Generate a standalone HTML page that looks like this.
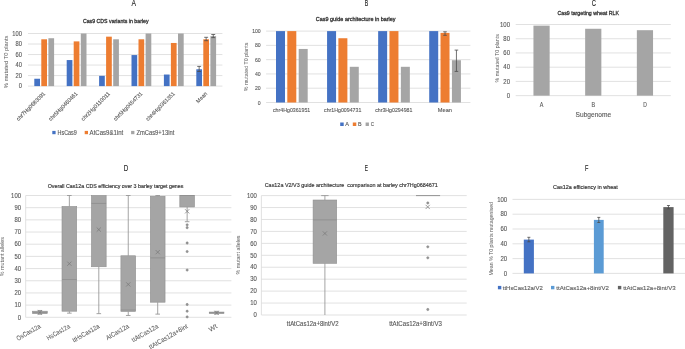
<!DOCTYPE html>
<html><head><meta charset="utf-8"><style>
html,body{margin:0;padding:0;background:#fff;}
body{width:685px;height:349px;overflow:hidden;}
svg{display:block;font-family:"Liberation Sans",sans-serif;will-change:transform;}
</style></head><body>
<svg width="685" height="349" viewBox="0 0 685 349">
<rect width="685" height="349" fill="#fff"/>
<text x="133.65" y="5.7" font-size="8.43" fill="#1a1a1a" stroke="#1a1a1a" stroke-width="0.12" text-anchor="middle" textLength="4.5" lengthAdjust="spacingAndGlyphs">A</text>
<text x="82.9" y="23.05" font-size="5.7" fill="#333333" stroke="#333333" stroke-width="0.3" textLength="65.7" lengthAdjust="spacingAndGlyphs">Cas9 CDS variants in barley</text>
<line x1="28" y1="86.1" x2="222.4" y2="86.1" stroke="#d9d9d9" stroke-width="0.8"/>
<line x1="28" y1="75.58" x2="222.4" y2="75.58" stroke="#d9d9d9" stroke-width="0.8"/>
<line x1="28" y1="65.06" x2="222.4" y2="65.06" stroke="#d9d9d9" stroke-width="0.8"/>
<line x1="28" y1="54.54" x2="222.4" y2="54.54" stroke="#d9d9d9" stroke-width="0.8"/>
<line x1="28" y1="44.02" x2="222.4" y2="44.02" stroke="#d9d9d9" stroke-width="0.8"/>
<line x1="28" y1="33.5" x2="222.4" y2="33.5" stroke="#d9d9d9" stroke-width="0.8"/>
<text x="21.9" y="88.35" font-size="6.54" fill="#595959" stroke="#595959" stroke-width="0.12" text-anchor="end" textLength="3.2" lengthAdjust="spacingAndGlyphs">0</text>
<text x="21.9" y="77.83" font-size="6.54" fill="#595959" stroke="#595959" stroke-width="0.12" text-anchor="end" textLength="6.4" lengthAdjust="spacingAndGlyphs">20</text>
<text x="21.9" y="67.31" font-size="6.54" fill="#595959" stroke="#595959" stroke-width="0.12" text-anchor="end" textLength="6.4" lengthAdjust="spacingAndGlyphs">40</text>
<text x="21.9" y="56.79" font-size="6.54" fill="#595959" stroke="#595959" stroke-width="0.12" text-anchor="end" textLength="6.4" lengthAdjust="spacingAndGlyphs">60</text>
<text x="21.9" y="46.27" font-size="6.54" fill="#595959" stroke="#595959" stroke-width="0.12" text-anchor="end" textLength="6.4" lengthAdjust="spacingAndGlyphs">80</text>
<text x="21.9" y="35.75" font-size="6.54" fill="#595959" stroke="#595959" stroke-width="0.12" text-anchor="end" textLength="9.6" lengthAdjust="spacingAndGlyphs">100</text>
<text x="8.3" y="88.2" font-size="5.81" fill="#595959" textLength="52.6" lengthAdjust="spacingAndGlyphs" transform="rotate(-90 8.3 88.2)">% mutated T0 plants</text>
<rect x="34.3" y="78.74" width="5.7" height="7.36" fill="#4472c4"/>
<rect x="41.3" y="39.29" width="5.7" height="46.81" fill="#ed7d31"/>
<rect x="48.4" y="38.23" width="5.7" height="47.87" fill="#a5a5a5"/>
<rect x="66.7" y="60.06" width="5.7" height="26.04" fill="#4472c4"/>
<rect x="73.7" y="41.39" width="5.7" height="44.71" fill="#ed7d31"/>
<rect x="80.8" y="33.5" width="5.7" height="52.6" fill="#a5a5a5"/>
<rect x="99.1" y="75.84" width="5.7" height="10.26" fill="#4472c4"/>
<rect x="106.1" y="36.66" width="5.7" height="49.44" fill="#ed7d31"/>
<rect x="113.2" y="39.29" width="5.7" height="46.81" fill="#a5a5a5"/>
<rect x="131.5" y="55.07" width="5.7" height="31.03" fill="#4472c4"/>
<rect x="138.5" y="39.29" width="5.7" height="46.81" fill="#ed7d31"/>
<rect x="145.6" y="33.5" width="5.7" height="52.6" fill="#a5a5a5"/>
<rect x="163.9" y="74.53" width="5.7" height="11.57" fill="#4472c4"/>
<rect x="170.9" y="42.97" width="5.7" height="43.13" fill="#ed7d31"/>
<rect x="178" y="33.5" width="5.7" height="52.6" fill="#a5a5a5"/>
<rect x="196.3" y="69.27" width="5.7" height="16.83" fill="#4472c4"/>
<rect x="203.3" y="39.29" width="5.7" height="46.81" fill="#ed7d31"/>
<rect x="210.4" y="36.13" width="5.7" height="49.97" fill="#a5a5a5"/>
<line x1="199.15" y1="66.4" x2="199.15" y2="71.5" stroke="#4d4d4d" stroke-width="0.8"/>
<line x1="197.2" y1="66.4" x2="201.1" y2="66.4" stroke="#4d4d4d" stroke-width="0.8"/>
<line x1="197.2" y1="71.5" x2="201.1" y2="71.5" stroke="#4d4d4d" stroke-width="0.8"/>
<line x1="206.15" y1="37.3" x2="206.15" y2="40.7" stroke="#4d4d4d" stroke-width="0.8"/>
<line x1="204.2" y1="37.3" x2="208.1" y2="37.3" stroke="#4d4d4d" stroke-width="0.8"/>
<line x1="204.2" y1="40.7" x2="208.1" y2="40.7" stroke="#4d4d4d" stroke-width="0.8"/>
<line x1="213.25" y1="34.5" x2="213.25" y2="37.6" stroke="#4d4d4d" stroke-width="0.8"/>
<line x1="211.3" y1="34.5" x2="215.2" y2="34.5" stroke="#4d4d4d" stroke-width="0.8"/>
<line x1="211.3" y1="37.6" x2="215.2" y2="37.6" stroke="#4d4d4d" stroke-width="0.8"/>
<text x="45.7" y="94.1" font-size="5.6" fill="#595959" stroke="#595959" stroke-width="0.12" text-anchor="end" textLength="38.5" lengthAdjust="spacingAndGlyphs" transform="rotate(-45 45.7 94.1)">chr7Hg0683091</text>
<text x="78.1" y="94.1" font-size="5.6" fill="#595959" stroke="#595959" stroke-width="0.12" text-anchor="end" textLength="38.5" lengthAdjust="spacingAndGlyphs" transform="rotate(-45 78.1 94.1)">chr5Hg0460461</text>
<text x="110.5" y="94.1" font-size="5.6" fill="#595959" stroke="#595959" stroke-width="0.12" text-anchor="end" textLength="38.5" lengthAdjust="spacingAndGlyphs" transform="rotate(-45 110.5 94.1)">chr2Hg0110011</text>
<text x="142.9" y="94.1" font-size="5.6" fill="#595959" stroke="#595959" stroke-width="0.12" text-anchor="end" textLength="38.5" lengthAdjust="spacingAndGlyphs" transform="rotate(-45 142.9 94.1)">chr5Hg0454731</text>
<text x="175.3" y="94.1" font-size="5.6" fill="#595959" stroke="#595959" stroke-width="0.12" text-anchor="end" textLength="38.5" lengthAdjust="spacingAndGlyphs" transform="rotate(-45 175.3 94.1)">chr4Hg0361351</text>
<text x="207.7" y="94.1" font-size="5.6" fill="#595959" stroke="#595959" stroke-width="0.12" text-anchor="end" textLength="13.2" lengthAdjust="spacingAndGlyphs" transform="rotate(-45 207.7 94.1)">Mean</text>
<rect x="52.3" y="130.9" width="3.3" height="3.3" fill="#4472c4"/>
<text x="57.5" y="134.8" font-size="6.54" fill="#595959" stroke="#595959" stroke-width="0.12" textLength="19.3" lengthAdjust="spacingAndGlyphs">HsCas9</text>
<rect x="84.7" y="130.9" width="3.3" height="3.3" fill="#ed7d31"/>
<text x="89.6" y="134.8" font-size="6.54" fill="#595959" stroke="#595959" stroke-width="0.12" textLength="33.6" lengthAdjust="spacingAndGlyphs">AtCas9&amp;1int</text>
<rect x="131.1" y="130.9" width="3.3" height="3.3" fill="#a5a5a5"/>
<text x="136.4" y="134.8" font-size="6.54" fill="#595959" stroke="#595959" stroke-width="0.12" textLength="37.9" lengthAdjust="spacingAndGlyphs">ZmCas9+13int</text>
<text x="366.45" y="5.7" font-size="8.43" fill="#1a1a1a" stroke="#1a1a1a" stroke-width="0.12" text-anchor="middle" textLength="3.5" lengthAdjust="spacingAndGlyphs">B</text>
<text x="315.8" y="20.85" font-size="5.7" fill="#333333" stroke="#333333" stroke-width="0.3" textLength="79.8" lengthAdjust="spacingAndGlyphs">Cas9 guide architecture in barley</text>
<line x1="266.1" y1="102.5" x2="470.4" y2="102.5" stroke="#d9d9d9" stroke-width="0.8"/>
<line x1="266.1" y1="88.22" x2="470.4" y2="88.22" stroke="#d9d9d9" stroke-width="0.8"/>
<line x1="266.1" y1="73.94" x2="470.4" y2="73.94" stroke="#d9d9d9" stroke-width="0.8"/>
<line x1="266.1" y1="59.66" x2="470.4" y2="59.66" stroke="#d9d9d9" stroke-width="0.8"/>
<line x1="266.1" y1="45.38" x2="470.4" y2="45.38" stroke="#d9d9d9" stroke-width="0.8"/>
<line x1="266.1" y1="31.1" x2="470.4" y2="31.1" stroke="#d9d9d9" stroke-width="0.8"/>
<text x="260.7" y="104.55" font-size="5.96" fill="#595959" stroke="#595959" stroke-width="0.12" text-anchor="end" textLength="2.85" lengthAdjust="spacingAndGlyphs">0</text>
<text x="260.7" y="90.27" font-size="5.96" fill="#595959" stroke="#595959" stroke-width="0.12" text-anchor="end" textLength="5.7" lengthAdjust="spacingAndGlyphs">20</text>
<text x="260.7" y="75.99" font-size="5.96" fill="#595959" stroke="#595959" stroke-width="0.12" text-anchor="end" textLength="5.7" lengthAdjust="spacingAndGlyphs">40</text>
<text x="260.7" y="61.71" font-size="5.96" fill="#595959" stroke="#595959" stroke-width="0.12" text-anchor="end" textLength="5.7" lengthAdjust="spacingAndGlyphs">60</text>
<text x="260.7" y="47.43" font-size="5.96" fill="#595959" stroke="#595959" stroke-width="0.12" text-anchor="end" textLength="5.7" lengthAdjust="spacingAndGlyphs">80</text>
<text x="260.7" y="33.15" font-size="5.96" fill="#595959" stroke="#595959" stroke-width="0.12" text-anchor="end" textLength="8.55" lengthAdjust="spacingAndGlyphs">100</text>
<text x="248.5" y="91.3" font-size="5.52" fill="#595959" textLength="48.7" lengthAdjust="spacingAndGlyphs" transform="rotate(-90 248.5 91.3)">% mutated T0 plants</text>
<rect x="276" y="31.1" width="9" height="71.4" fill="#4472c4"/>
<rect x="287.3" y="31.1" width="9" height="71.4" fill="#ed7d31"/>
<rect x="298.7" y="48.95" width="9" height="53.55" fill="#a5a5a5"/>
<rect x="327.07" y="31.1" width="9" height="71.4" fill="#4472c4"/>
<rect x="338.38" y="38.24" width="9" height="64.26" fill="#ed7d31"/>
<rect x="349.78" y="66.8" width="9" height="35.7" fill="#a5a5a5"/>
<rect x="378.15" y="31.1" width="9" height="71.4" fill="#4472c4"/>
<rect x="389.45" y="31.1" width="9" height="71.4" fill="#ed7d31"/>
<rect x="400.85" y="66.8" width="9" height="35.7" fill="#a5a5a5"/>
<rect x="429.22" y="31.1" width="9" height="71.4" fill="#4472c4"/>
<rect x="440.52" y="32.88" width="9" height="69.62" fill="#ed7d31"/>
<rect x="451.93" y="60.23" width="9" height="42.27" fill="#a5a5a5"/>
<line x1="445.02" y1="31.8" x2="445.02" y2="35.3" stroke="#4d4d4d" stroke-width="0.8"/>
<line x1="443.22" y1="31.8" x2="446.82" y2="31.8" stroke="#4d4d4d" stroke-width="0.8"/>
<line x1="443.22" y1="35.3" x2="446.82" y2="35.3" stroke="#4d4d4d" stroke-width="0.8"/>
<line x1="456.43" y1="50.1" x2="456.43" y2="71.4" stroke="#4d4d4d" stroke-width="0.8"/>
<line x1="454.62" y1="50.1" x2="458.23" y2="50.1" stroke="#4d4d4d" stroke-width="0.8"/>
<line x1="454.62" y1="71.4" x2="458.23" y2="71.4" stroke="#4d4d4d" stroke-width="0.8"/>
<text x="291.64" y="112.2" font-size="5.81" fill="#595959" stroke="#595959" stroke-width="0.12" text-anchor="middle" textLength="37.3" lengthAdjust="spacingAndGlyphs">chr4Hg0361951</text>
<text x="342.71" y="112.2" font-size="5.81" fill="#595959" stroke="#595959" stroke-width="0.12" text-anchor="middle" textLength="37.3" lengthAdjust="spacingAndGlyphs">chr1Hg0094731</text>
<text x="393.79" y="112.2" font-size="5.81" fill="#595959" stroke="#595959" stroke-width="0.12" text-anchor="middle" textLength="37.3" lengthAdjust="spacingAndGlyphs">chr3Hg0294981</text>
<text x="444.86" y="112.2" font-size="5.81" fill="#595959" stroke="#595959" stroke-width="0.12" text-anchor="middle" textLength="14.2" lengthAdjust="spacingAndGlyphs">Mean</text>
<rect x="340.2" y="122.5" width="3.5" height="3.5" fill="#4472c4"/>
<text x="345.3" y="126.2" font-size="5.81" fill="#595959" stroke="#595959" stroke-width="0.12" textLength="3.7" lengthAdjust="spacingAndGlyphs">A</text>
<rect x="352.8" y="122.5" width="3.5" height="3.5" fill="#ed7d31"/>
<text x="358" y="126.2" font-size="5.81" fill="#595959" stroke="#595959" stroke-width="0.12" textLength="3.6" lengthAdjust="spacingAndGlyphs">B</text>
<rect x="365.6" y="122.5" width="3.3" height="3.5" fill="#a5a5a5"/>
<text x="370.7" y="126.2" font-size="5.81" fill="#595959" stroke="#595959" stroke-width="0.12" textLength="3.3" lengthAdjust="spacingAndGlyphs">C</text>
<text x="593.8" y="5.8" font-size="8.58" fill="#1a1a1a" stroke="#1a1a1a" stroke-width="0.12" text-anchor="middle" textLength="4.2" lengthAdjust="spacingAndGlyphs">C</text>
<text x="557.4" y="15.3" font-size="6.16" fill="#333333" stroke="#333333" stroke-width="0.3" textLength="61.7" lengthAdjust="spacingAndGlyphs">Cas9 targeting wheat RLK</text>
<line x1="515.7" y1="95.65" x2="670.8" y2="95.65" stroke="#d9d9d9" stroke-width="0.8"/>
<line x1="515.7" y1="81.42" x2="670.8" y2="81.42" stroke="#d9d9d9" stroke-width="0.8"/>
<line x1="515.7" y1="67.19" x2="670.8" y2="67.19" stroke="#d9d9d9" stroke-width="0.8"/>
<line x1="515.7" y1="52.96" x2="670.8" y2="52.96" stroke="#d9d9d9" stroke-width="0.8"/>
<line x1="515.7" y1="38.73" x2="670.8" y2="38.73" stroke="#d9d9d9" stroke-width="0.8"/>
<line x1="515.7" y1="24.5" x2="670.8" y2="24.5" stroke="#d9d9d9" stroke-width="0.8"/>
<text x="510" y="97.9" font-size="6.54" fill="#595959" stroke="#595959" stroke-width="0.12" text-anchor="end" textLength="3.33" lengthAdjust="spacingAndGlyphs">0</text>
<text x="510" y="83.67" font-size="6.54" fill="#595959" stroke="#595959" stroke-width="0.12" text-anchor="end" textLength="6.66" lengthAdjust="spacingAndGlyphs">20</text>
<text x="510" y="69.44" font-size="6.54" fill="#595959" stroke="#595959" stroke-width="0.12" text-anchor="end" textLength="6.66" lengthAdjust="spacingAndGlyphs">40</text>
<text x="510" y="55.21" font-size="6.54" fill="#595959" stroke="#595959" stroke-width="0.12" text-anchor="end" textLength="6.66" lengthAdjust="spacingAndGlyphs">60</text>
<text x="510" y="40.98" font-size="6.54" fill="#595959" stroke="#595959" stroke-width="0.12" text-anchor="end" textLength="6.66" lengthAdjust="spacingAndGlyphs">80</text>
<text x="510" y="26.75" font-size="6.54" fill="#595959" stroke="#595959" stroke-width="0.12" text-anchor="end" textLength="9.99" lengthAdjust="spacingAndGlyphs">100</text>
<text x="498.7" y="82.4" font-size="5.23" fill="#595959" textLength="48.2" lengthAdjust="spacingAndGlyphs" transform="rotate(-90 498.7 82.4)">% mutated T0 plants</text>
<rect x="533.45" y="25.64" width="16.2" height="70.01" fill="#a5a5a5"/>
<text x="541.55" y="106.7" font-size="6.4" fill="#595959" stroke="#595959" stroke-width="0.12" text-anchor="middle" textLength="3.6" lengthAdjust="spacingAndGlyphs">A</text>
<rect x="585.15" y="28.77" width="16.2" height="66.88" fill="#a5a5a5"/>
<text x="593.25" y="106.7" font-size="6.4" fill="#595959" stroke="#595959" stroke-width="0.12" text-anchor="middle" textLength="3.6" lengthAdjust="spacingAndGlyphs">B</text>
<rect x="636.85" y="30.19" width="16.2" height="65.46" fill="#a5a5a5"/>
<text x="644.95" y="106.7" font-size="6.4" fill="#595959" stroke="#595959" stroke-width="0.12" text-anchor="middle" textLength="3.6" lengthAdjust="spacingAndGlyphs">D</text>
<text x="593.35" y="117.4" font-size="7.27" fill="#595959" stroke="#595959" stroke-width="0.12" text-anchor="middle" textLength="35.5" lengthAdjust="spacingAndGlyphs">Subgenome</text>
<text x="126.05" y="170.7" font-size="8.43" fill="#1a1a1a" stroke="#1a1a1a" stroke-width="0.12" text-anchor="middle" textLength="4.5" lengthAdjust="spacingAndGlyphs">D</text>
<text x="47.7" y="187.5" font-size="5.85" fill="#333333" stroke="#333333" stroke-width="0.18" textLength="135.7" lengthAdjust="spacingAndGlyphs">Overall Cas12a CDS efficiency over 3 barley target genes</text>
<line x1="25.7" y1="317.3" x2="231.4" y2="317.3" stroke="#d9d9d9" stroke-width="0.8"/>
<line x1="25.7" y1="305.12" x2="231.4" y2="305.12" stroke="#d9d9d9" stroke-width="0.8"/>
<line x1="25.7" y1="292.94" x2="231.4" y2="292.94" stroke="#d9d9d9" stroke-width="0.8"/>
<line x1="25.7" y1="280.76" x2="231.4" y2="280.76" stroke="#d9d9d9" stroke-width="0.8"/>
<line x1="25.7" y1="268.58" x2="231.4" y2="268.58" stroke="#d9d9d9" stroke-width="0.8"/>
<line x1="25.7" y1="256.4" x2="231.4" y2="256.4" stroke="#d9d9d9" stroke-width="0.8"/>
<line x1="25.7" y1="244.22" x2="231.4" y2="244.22" stroke="#d9d9d9" stroke-width="0.8"/>
<line x1="25.7" y1="232.04" x2="231.4" y2="232.04" stroke="#d9d9d9" stroke-width="0.8"/>
<line x1="25.7" y1="219.86" x2="231.4" y2="219.86" stroke="#d9d9d9" stroke-width="0.8"/>
<line x1="25.7" y1="207.68" x2="231.4" y2="207.68" stroke="#d9d9d9" stroke-width="0.8"/>
<line x1="25.7" y1="195.5" x2="231.4" y2="195.5" stroke="#d9d9d9" stroke-width="0.8"/>
<text x="21" y="319.55" font-size="6.54" fill="#595959" stroke="#595959" stroke-width="0.12" text-anchor="end" textLength="3.3" lengthAdjust="spacingAndGlyphs">0</text>
<text x="21" y="307.37" font-size="6.54" fill="#595959" stroke="#595959" stroke-width="0.12" text-anchor="end" textLength="6.6" lengthAdjust="spacingAndGlyphs">10</text>
<text x="21" y="295.19" font-size="6.54" fill="#595959" stroke="#595959" stroke-width="0.12" text-anchor="end" textLength="6.6" lengthAdjust="spacingAndGlyphs">20</text>
<text x="21" y="283.01" font-size="6.54" fill="#595959" stroke="#595959" stroke-width="0.12" text-anchor="end" textLength="6.6" lengthAdjust="spacingAndGlyphs">30</text>
<text x="21" y="270.83" font-size="6.54" fill="#595959" stroke="#595959" stroke-width="0.12" text-anchor="end" textLength="6.6" lengthAdjust="spacingAndGlyphs">40</text>
<text x="21" y="258.65" font-size="6.54" fill="#595959" stroke="#595959" stroke-width="0.12" text-anchor="end" textLength="6.6" lengthAdjust="spacingAndGlyphs">50</text>
<text x="21" y="246.47" font-size="6.54" fill="#595959" stroke="#595959" stroke-width="0.12" text-anchor="end" textLength="6.6" lengthAdjust="spacingAndGlyphs">60</text>
<text x="21" y="234.29" font-size="6.54" fill="#595959" stroke="#595959" stroke-width="0.12" text-anchor="end" textLength="6.6" lengthAdjust="spacingAndGlyphs">70</text>
<text x="21" y="222.11" font-size="6.54" fill="#595959" stroke="#595959" stroke-width="0.12" text-anchor="end" textLength="6.6" lengthAdjust="spacingAndGlyphs">80</text>
<text x="21" y="209.93" font-size="6.54" fill="#595959" stroke="#595959" stroke-width="0.12" text-anchor="end" textLength="6.6" lengthAdjust="spacingAndGlyphs">90</text>
<text x="21" y="197.75" font-size="6.54" fill="#595959" stroke="#595959" stroke-width="0.12" text-anchor="end" textLength="9.9" lengthAdjust="spacingAndGlyphs">100</text>
<line x1="25.7" y1="195.5" x2="25.7" y2="317.3" stroke="#d9d9d9" stroke-width="0.8"/>
<text x="4.5" y="276.2" font-size="4.94" fill="#595959" textLength="39.2" lengthAdjust="spacingAndGlyphs" transform="rotate(-90 4.5 276.2)">% mutant alleles</text>
<line x1="39.9" y1="310.48" x2="39.9" y2="311.21" stroke="#939393" stroke-width="0.85"/>
<line x1="37.6" y1="310.48" x2="42.2" y2="310.48" stroke="#939393" stroke-width="0.85"/>
<line x1="39.9" y1="313.65" x2="39.9" y2="314.25" stroke="#939393" stroke-width="0.85"/>
<line x1="37.6" y1="314.25" x2="42.2" y2="314.25" stroke="#939393" stroke-width="0.85"/>
<rect x="32.55" y="311.21" width="14.7" height="2.44" fill="#a5a5a5" stroke="#8f8f8f" stroke-width="0.6"/>
<line x1="32.55" y1="312.43" x2="47.25" y2="312.43" stroke="#8a8a8a" stroke-width="0.7"/>
<path d="M37.8 310.33L42 314.53M37.8 314.53L42 310.33" stroke="#7a7a7a" stroke-width="0.75" fill="none"/>
<line x1="69.35" y1="195.5" x2="69.35" y2="206.46" stroke="#939393" stroke-width="0.85"/>
<line x1="67.05" y1="195.5" x2="71.65" y2="195.5" stroke="#939393" stroke-width="0.85"/>
<line x1="69.35" y1="311.21" x2="69.35" y2="313.16" stroke="#939393" stroke-width="0.85"/>
<line x1="67.05" y1="313.16" x2="71.65" y2="313.16" stroke="#939393" stroke-width="0.85"/>
<rect x="62" y="206.46" width="14.7" height="104.75" fill="#a5a5a5" stroke="#8f8f8f" stroke-width="0.6"/>
<line x1="62" y1="279.54" x2="76.7" y2="279.54" stroke="#8a8a8a" stroke-width="0.7"/>
<path d="M67.25 261.61L71.45 265.81M67.25 265.81L71.45 261.61" stroke="#7a7a7a" stroke-width="0.75" fill="none"/>
<line x1="98.8" y1="266.75" x2="98.8" y2="313.65" stroke="#939393" stroke-width="0.85"/>
<line x1="96.5" y1="313.65" x2="101.1" y2="313.65" stroke="#939393" stroke-width="0.85"/>
<rect x="91.45" y="195.5" width="14.7" height="71.25" fill="#a5a5a5" stroke="#8f8f8f" stroke-width="0.6"/>
<line x1="91.45" y1="203.42" x2="106.15" y2="203.42" stroke="#8a8a8a" stroke-width="0.7"/>
<path d="M96.7 227.5L100.9 231.7M96.7 231.7L100.9 227.5" stroke="#7a7a7a" stroke-width="0.75" fill="none"/>
<line x1="128.25" y1="195.5" x2="128.25" y2="255.79" stroke="#939393" stroke-width="0.85"/>
<line x1="125.95" y1="195.5" x2="130.55" y2="195.5" stroke="#939393" stroke-width="0.85"/>
<line x1="128.25" y1="311.45" x2="128.25" y2="315.47" stroke="#939393" stroke-width="0.85"/>
<line x1="125.95" y1="315.47" x2="130.55" y2="315.47" stroke="#939393" stroke-width="0.85"/>
<rect x="120.9" y="255.79" width="14.7" height="55.66" fill="#a5a5a5" stroke="#8f8f8f" stroke-width="0.6"/>
<line x1="120.9" y1="309.99" x2="135.6" y2="309.99" stroke="#8a8a8a" stroke-width="0.7"/>
<path d="M126.15 282.31L130.35 286.51M126.15 286.51L130.35 282.31" stroke="#7a7a7a" stroke-width="0.75" fill="none"/>
<line x1="157.7" y1="195.5" x2="157.7" y2="196.23" stroke="#939393" stroke-width="0.85"/>
<line x1="155.4" y1="195.5" x2="160" y2="195.5" stroke="#939393" stroke-width="0.85"/>
<line x1="157.7" y1="302.2" x2="157.7" y2="314.13" stroke="#939393" stroke-width="0.85"/>
<line x1="155.4" y1="314.13" x2="160" y2="314.13" stroke="#939393" stroke-width="0.85"/>
<rect x="150.35" y="196.23" width="14.7" height="105.97" fill="#a5a5a5" stroke="#8f8f8f" stroke-width="0.6"/>
<line x1="150.35" y1="257.86" x2="165.05" y2="257.86" stroke="#8a8a8a" stroke-width="0.7"/>
<path d="M155.6 250.04L159.8 254.24M155.6 254.24L159.8 250.04" stroke="#7a7a7a" stroke-width="0.75" fill="none"/>
<line x1="187.15" y1="206.95" x2="187.15" y2="221.69" stroke="#939393" stroke-width="0.85"/>
<line x1="184.85" y1="221.69" x2="189.45" y2="221.69" stroke="#939393" stroke-width="0.85"/>
<rect x="179.8" y="195.5" width="14.7" height="11.45" fill="#a5a5a5" stroke="#8f8f8f" stroke-width="0.6"/>
<line x1="179.8" y1="195.5" x2="194.5" y2="195.5" stroke="#8a8a8a" stroke-width="0.7"/>
<path d="M185.05 209.23L189.25 213.43M185.05 213.43L189.25 209.23" stroke="#7a7a7a" stroke-width="0.75" fill="none"/>
<circle cx="187.15" cy="224.85" r="1.15" fill="#969696" stroke="#7a7a7a" stroke-width="0.45"/>
<circle cx="187.15" cy="227.66" r="1.15" fill="#969696" stroke="#7a7a7a" stroke-width="0.45"/>
<circle cx="187.15" cy="243" r="1.15" fill="#969696" stroke="#7a7a7a" stroke-width="0.45"/>
<circle cx="187.15" cy="251.53" r="1.15" fill="#969696" stroke="#7a7a7a" stroke-width="0.45"/>
<circle cx="187.15" cy="270.04" r="1.15" fill="#969696" stroke="#7a7a7a" stroke-width="0.45"/>
<circle cx="187.15" cy="304.51" r="1.15" fill="#969696" stroke="#7a7a7a" stroke-width="0.45"/>
<circle cx="187.15" cy="311.21" r="1.15" fill="#969696" stroke="#7a7a7a" stroke-width="0.45"/>
<circle cx="187.15" cy="316.93" r="1.15" fill="#969696" stroke="#7a7a7a" stroke-width="0.45"/>
<line x1="216.6" y1="311.33" x2="216.6" y2="312.06" stroke="#939393" stroke-width="0.85"/>
<line x1="214.3" y1="311.33" x2="218.9" y2="311.33" stroke="#939393" stroke-width="0.85"/>
<line x1="216.6" y1="313.52" x2="216.6" y2="314.01" stroke="#939393" stroke-width="0.85"/>
<line x1="214.3" y1="314.01" x2="218.9" y2="314.01" stroke="#939393" stroke-width="0.85"/>
<rect x="209.25" y="312.06" width="14.7" height="1.46" fill="#a5a5a5" stroke="#8f8f8f" stroke-width="0.6"/>
<line x1="209.25" y1="312.67" x2="223.95" y2="312.67" stroke="#8a8a8a" stroke-width="0.7"/>
<path d="M214.5 310.82L218.7 315.02M214.5 315.02L218.7 310.82" stroke="#7a7a7a" stroke-width="0.75" fill="none"/>
<text x="41.1" y="327.6" font-size="6.69" fill="#595959" stroke="#595959" stroke-width="0.05" text-anchor="end" textLength="26.6" lengthAdjust="spacingAndGlyphs" transform="rotate(-30 41.1 327.6)">OsCas12a</text>
<text x="70.55" y="327.6" font-size="6.69" fill="#595959" stroke="#595959" stroke-width="0.05" text-anchor="end" textLength="25.6" lengthAdjust="spacingAndGlyphs" transform="rotate(-30 70.55 327.6)">HsCas12a</text>
<text x="100" y="327.6" font-size="6.69" fill="#595959" stroke="#595959" stroke-width="0.05" text-anchor="end" textLength="30" lengthAdjust="spacingAndGlyphs" transform="rotate(-30 100 327.6)">ttHsCas12a</text>
<text x="129.45" y="327.6" font-size="6.69" fill="#595959" stroke="#595959" stroke-width="0.05" text-anchor="end" textLength="25.3" lengthAdjust="spacingAndGlyphs" transform="rotate(-30 129.45 327.6)">AtCas12a</text>
<text x="158.9" y="327.6" font-size="6.69" fill="#595959" stroke="#595959" stroke-width="0.05" text-anchor="end" textLength="29.6" lengthAdjust="spacingAndGlyphs" transform="rotate(-30 158.9 327.6)">ttAtCas12a</text>
<text x="188.35" y="327.6" font-size="6.69" fill="#595959" stroke="#595959" stroke-width="0.05" text-anchor="end" textLength="43.6" lengthAdjust="spacingAndGlyphs" transform="rotate(-30 188.35 327.6)">ttAtCas12a+8int</text>
<text x="217.8" y="327.6" font-size="6.69" fill="#595959" stroke="#595959" stroke-width="0.05" text-anchor="end" textLength="8.6" lengthAdjust="spacingAndGlyphs" transform="rotate(-30 217.8 327.6)">Wt</text>
<text x="366.3" y="170.7" font-size="8.43" fill="#1a1a1a" stroke="#1a1a1a" stroke-width="0.12" text-anchor="middle" textLength="3.2" lengthAdjust="spacingAndGlyphs">E</text>
<text x="264.7" y="187.3" font-size="5.55" fill="#333333" stroke="#333333" stroke-width="0.15" textLength="173.2" lengthAdjust="spacingAndGlyphs">Cas12a V2/V3 guide architecture&#160; comparison at barley chr7Hg0684671</text>
<line x1="261.4" y1="315" x2="466.7" y2="315" stroke="#d9d9d9" stroke-width="0.8"/>
<line x1="261.4" y1="303.06" x2="466.7" y2="303.06" stroke="#d9d9d9" stroke-width="0.8"/>
<line x1="261.4" y1="291.12" x2="466.7" y2="291.12" stroke="#d9d9d9" stroke-width="0.8"/>
<line x1="261.4" y1="279.18" x2="466.7" y2="279.18" stroke="#d9d9d9" stroke-width="0.8"/>
<line x1="261.4" y1="267.24" x2="466.7" y2="267.24" stroke="#d9d9d9" stroke-width="0.8"/>
<line x1="261.4" y1="255.3" x2="466.7" y2="255.3" stroke="#d9d9d9" stroke-width="0.8"/>
<line x1="261.4" y1="243.36" x2="466.7" y2="243.36" stroke="#d9d9d9" stroke-width="0.8"/>
<line x1="261.4" y1="231.42" x2="466.7" y2="231.42" stroke="#d9d9d9" stroke-width="0.8"/>
<line x1="261.4" y1="219.48" x2="466.7" y2="219.48" stroke="#d9d9d9" stroke-width="0.8"/>
<line x1="261.4" y1="207.54" x2="466.7" y2="207.54" stroke="#d9d9d9" stroke-width="0.8"/>
<line x1="261.4" y1="195.6" x2="466.7" y2="195.6" stroke="#d9d9d9" stroke-width="0.8"/>
<text x="256.9" y="317.25" font-size="6.54" fill="#595959" stroke="#595959" stroke-width="0.12" text-anchor="end" textLength="3.3" lengthAdjust="spacingAndGlyphs">0</text>
<text x="256.9" y="305.31" font-size="6.54" fill="#595959" stroke="#595959" stroke-width="0.12" text-anchor="end" textLength="6.6" lengthAdjust="spacingAndGlyphs">10</text>
<text x="256.9" y="293.37" font-size="6.54" fill="#595959" stroke="#595959" stroke-width="0.12" text-anchor="end" textLength="6.6" lengthAdjust="spacingAndGlyphs">20</text>
<text x="256.9" y="281.43" font-size="6.54" fill="#595959" stroke="#595959" stroke-width="0.12" text-anchor="end" textLength="6.6" lengthAdjust="spacingAndGlyphs">30</text>
<text x="256.9" y="269.49" font-size="6.54" fill="#595959" stroke="#595959" stroke-width="0.12" text-anchor="end" textLength="6.6" lengthAdjust="spacingAndGlyphs">40</text>
<text x="256.9" y="257.55" font-size="6.54" fill="#595959" stroke="#595959" stroke-width="0.12" text-anchor="end" textLength="6.6" lengthAdjust="spacingAndGlyphs">50</text>
<text x="256.9" y="245.61" font-size="6.54" fill="#595959" stroke="#595959" stroke-width="0.12" text-anchor="end" textLength="6.6" lengthAdjust="spacingAndGlyphs">60</text>
<text x="256.9" y="233.67" font-size="6.54" fill="#595959" stroke="#595959" stroke-width="0.12" text-anchor="end" textLength="6.6" lengthAdjust="spacingAndGlyphs">70</text>
<text x="256.9" y="221.73" font-size="6.54" fill="#595959" stroke="#595959" stroke-width="0.12" text-anchor="end" textLength="6.6" lengthAdjust="spacingAndGlyphs">80</text>
<text x="256.9" y="209.79" font-size="6.54" fill="#595959" stroke="#595959" stroke-width="0.12" text-anchor="end" textLength="6.6" lengthAdjust="spacingAndGlyphs">90</text>
<text x="256.9" y="197.85" font-size="6.54" fill="#595959" stroke="#595959" stroke-width="0.12" text-anchor="end" textLength="9.9" lengthAdjust="spacingAndGlyphs">100</text>
<line x1="261.4" y1="195.6" x2="261.4" y2="315" stroke="#d9d9d9" stroke-width="0.8"/>
<text x="240.1" y="274.4" font-size="4.94" fill="#595959" textLength="38.9" lengthAdjust="spacingAndGlyphs" transform="rotate(-90 240.1 274.4)">% mutant alleles</text>
<line x1="324.9" y1="195.6" x2="324.9" y2="200.02" stroke="#939393" stroke-width="0.85"/>
<line x1="321.2" y1="195.6" x2="328.6" y2="195.6" stroke="#939393" stroke-width="0.85"/>
<line x1="324.9" y1="263.3" x2="324.9" y2="315" stroke="#939393" stroke-width="0.85"/>
<rect x="313.1" y="200.02" width="23.6" height="63.28" fill="#a5a5a5" stroke="#8f8f8f" stroke-width="0.6"/>
<line x1="313.1" y1="219.84" x2="336.7" y2="219.84" stroke="#8a8a8a" stroke-width="0.7"/>
<path d="M322.8 231.35L327 235.55M322.8 235.55L327 231.35" stroke="#7a7a7a" stroke-width="0.75" fill="none"/>
<line x1="416" y1="195.6" x2="440.1" y2="195.6" stroke="#8a8a8a" stroke-width="0.9"/>
<circle cx="427.8" cy="203" r="1.15" fill="#969696" stroke="#7a7a7a" stroke-width="0.45"/>
<circle cx="427.8" cy="246.82" r="1.15" fill="#969696" stroke="#7a7a7a" stroke-width="0.45"/>
<circle cx="427.8" cy="257.81" r="1.15" fill="#969696" stroke="#7a7a7a" stroke-width="0.45"/>
<circle cx="427.8" cy="309.51" r="1.15" fill="#969696" stroke="#7a7a7a" stroke-width="0.45"/>
<path d="M425.6 204.84L429.8 209.04M425.6 209.04L429.8 204.84" stroke="#7a7a7a" stroke-width="0.75" fill="none"/>
<text x="286.8" y="326.3" font-size="6.4" fill="#595959" stroke="#595959" stroke-width="0.12" textLength="51.8" lengthAdjust="spacingAndGlyphs">ttAtCas12a+8int/V2</text>
<text x="389.2" y="326.3" font-size="6.4" fill="#595959" stroke="#595959" stroke-width="0.12" textLength="52.7" lengthAdjust="spacingAndGlyphs">ttAtCas12a+8int/V3</text>
<text x="586.8" y="170.6" font-size="8.28" fill="#1a1a1a" stroke="#1a1a1a" stroke-width="0.12" text-anchor="middle" textLength="3.4" lengthAdjust="spacingAndGlyphs">F</text>
<text x="553.1" y="188.9" font-size="5.55" fill="#333333" stroke="#333333" stroke-width="0.18" textLength="64.7" lengthAdjust="spacingAndGlyphs">Cas12a efficiency in wheat</text>
<line x1="512.5" y1="273.4" x2="685" y2="273.4" stroke="#d9d9d9" stroke-width="0.8"/>
<line x1="512.5" y1="258.6" x2="685" y2="258.6" stroke="#d9d9d9" stroke-width="0.8"/>
<line x1="512.5" y1="243.8" x2="685" y2="243.8" stroke="#d9d9d9" stroke-width="0.8"/>
<line x1="512.5" y1="229" x2="685" y2="229" stroke="#d9d9d9" stroke-width="0.8"/>
<line x1="512.5" y1="214.2" x2="685" y2="214.2" stroke="#d9d9d9" stroke-width="0.8"/>
<line x1="512.5" y1="199.4" x2="685" y2="199.4" stroke="#d9d9d9" stroke-width="0.8"/>
<text x="507.2" y="275.65" font-size="6.54" fill="#595959" stroke="#595959" stroke-width="0.12" text-anchor="end" textLength="3.33" lengthAdjust="spacingAndGlyphs">0</text>
<text x="507.2" y="260.85" font-size="6.54" fill="#595959" stroke="#595959" stroke-width="0.12" text-anchor="end" textLength="6.66" lengthAdjust="spacingAndGlyphs">20</text>
<text x="507.2" y="246.05" font-size="6.54" fill="#595959" stroke="#595959" stroke-width="0.12" text-anchor="end" textLength="6.66" lengthAdjust="spacingAndGlyphs">40</text>
<text x="507.2" y="231.25" font-size="6.54" fill="#595959" stroke="#595959" stroke-width="0.12" text-anchor="end" textLength="6.66" lengthAdjust="spacingAndGlyphs">60</text>
<text x="507.2" y="216.45" font-size="6.54" fill="#595959" stroke="#595959" stroke-width="0.12" text-anchor="end" textLength="6.66" lengthAdjust="spacingAndGlyphs">80</text>
<text x="507.2" y="201.65" font-size="6.54" fill="#595959" stroke="#595959" stroke-width="0.12" text-anchor="end" textLength="9.99" lengthAdjust="spacingAndGlyphs">100</text>
<text x="492.8" y="275.5" font-size="5.23" fill="#595959" textLength="73.5" lengthAdjust="spacingAndGlyphs" transform="rotate(-90 492.8 275.5)">Mean % T0 plants mutagenised</text>
<rect x="523.8" y="239.6" width="10.1" height="33.8" fill="#4472c4"/>
<line x1="528.85" y1="237.3" x2="528.85" y2="241.8" stroke="#4d4d4d" stroke-width="0.8"/>
<line x1="527.35" y1="237.3" x2="530.35" y2="237.3" stroke="#4d4d4d" stroke-width="0.8"/>
<line x1="527.35" y1="241.8" x2="530.35" y2="241.8" stroke="#4d4d4d" stroke-width="0.8"/>
<rect x="593.9" y="219.9" width="9.8" height="53.5" fill="#5b9bd5"/>
<line x1="598.8" y1="217.4" x2="598.8" y2="222.5" stroke="#4d4d4d" stroke-width="0.8"/>
<line x1="597.3" y1="217.4" x2="600.3" y2="217.4" stroke="#4d4d4d" stroke-width="0.8"/>
<line x1="597.3" y1="222.5" x2="600.3" y2="222.5" stroke="#4d4d4d" stroke-width="0.8"/>
<rect x="663.3" y="207.1" width="10.3" height="66.3" fill="#636363"/>
<line x1="668.45" y1="205.5" x2="668.45" y2="208.8" stroke="#4d4d4d" stroke-width="0.8"/>
<line x1="666.95" y1="205.5" x2="669.95" y2="205.5" stroke="#4d4d4d" stroke-width="0.8"/>
<line x1="666.95" y1="208.8" x2="669.95" y2="208.8" stroke="#4d4d4d" stroke-width="0.8"/>
<rect x="497.9" y="285.9" width="3.4" height="3.4" fill="#4472c4"/>
<text x="502.8" y="289.8" font-size="6.1" fill="#595959" stroke="#595959" stroke-width="0.12" textLength="39.9" lengthAdjust="spacingAndGlyphs">ttHsCas12a/V2</text>
<rect x="551" y="285.9" width="3.4" height="3.4" fill="#5b9bd5"/>
<text x="556.3" y="289.8" font-size="6.1" fill="#595959" stroke="#595959" stroke-width="0.12" textLength="52.7" lengthAdjust="spacingAndGlyphs">ttAtCas12a+8int/V2</text>
<rect x="617.9" y="285.9" width="3.4" height="3.4" fill="#636363"/>
<text x="623.2" y="289.8" font-size="6.1" fill="#595959" stroke="#595959" stroke-width="0.12" textLength="52.4" lengthAdjust="spacingAndGlyphs">ttAtCas12a+8int/V3</text>
</svg>
</body></html>
